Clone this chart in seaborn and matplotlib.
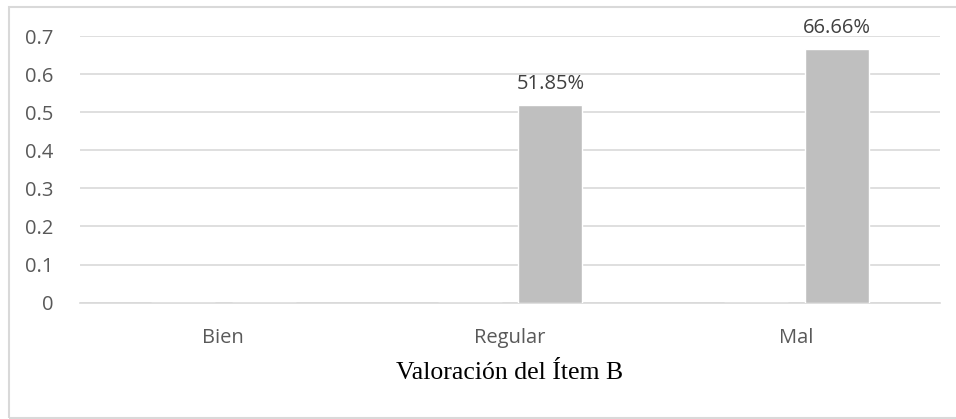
import seaborn as sns
import matplotlib.pyplot as plt
import pandas as pd
from matplotlib.patches import Rectangle

categorias = ["Bien", "Regular", "Mal"]
serie_vacia = [0, 0, 0]
porcentajes = [0, 0.5185, 0.6666]
etiquetas = ["", "51.85%", "66.66%"]

df = pd.DataFrame({
    "cat": categorias * 2,
    "valor": serie_vacia + porcentajes,
    "serie": ["s1"] * 3 + ["s2"] * 3,
})

sns.set_style("white")
plt.rcParams['font.family'] = ['Open Sans', 'DejaVu Sans']

fig = plt.figure(figsize=(9.56, 4.19), dpi=100)
ax = fig.add_axes([80 / 956, 116.3 / 419, 860 / 956, 266.7 / 419])

sns.barplot(data=df, x="cat", y="valor", hue="serie", hue_order=["s1", "s2"],
            palette=["#BFBFBF", "#BFBFBF"], width=0.564, gap=0.21,
            legend=False, ax=ax, zorder=3)

ax.set_ylim(0, 0.7)
ax.set_yticks([0, 0.1, 0.2, 0.3, 0.4, 0.5, 0.6, 0.7])
ax.set_yticklabels(["0", "0.1", "0.2", "0.3", "0.4", "0.5", "0.6", "0.7"])
ax.set_xlim(-0.5, 2.5)
ax.yaxis.grid(True, color="#D9D9D9", linewidth=1.2, zorder=0)
for s in ["top", "right", "left"]:
    ax.spines[s].set_visible(False)
ax.spines["bottom"].set_color("#D9D9D9")
ax.spines["bottom"].set_linewidth(1.2)

# separadores de categoria
ax.set_xticks([-0.5, 0.5, 1.5, 2.5], minor=True)
ax.tick_params(axis="x", which="minor", length=8, color="#D9D9D9", width=1.2)
ax.tick_params(axis="x", which="major", length=0, pad=18, labelsize=14.5, labelcolor="#595959")
ax.tick_params(axis="y", length=0, pad=19, labelsize=14.5, labelcolor="#595959")

ax.bar_label(ax.containers[1], labels=etiquetas, padding=8, fontsize=14.5, color="#404040")

ax.set_xlabel("Valoración del Ítem B", family=["Liberation Serif"], fontsize=18.5,
              color="black", labelpad=10)
ax.set_ylabel("")

fig.patches.append(Rectangle((9 / 956, 1 / 419), 1.2, 411 / 419, transform=fig.transFigure,
                             fill=False, edgecolor="#D9D9D9", linewidth=1.5))

fig.savefig("out.png", dpi=100)
